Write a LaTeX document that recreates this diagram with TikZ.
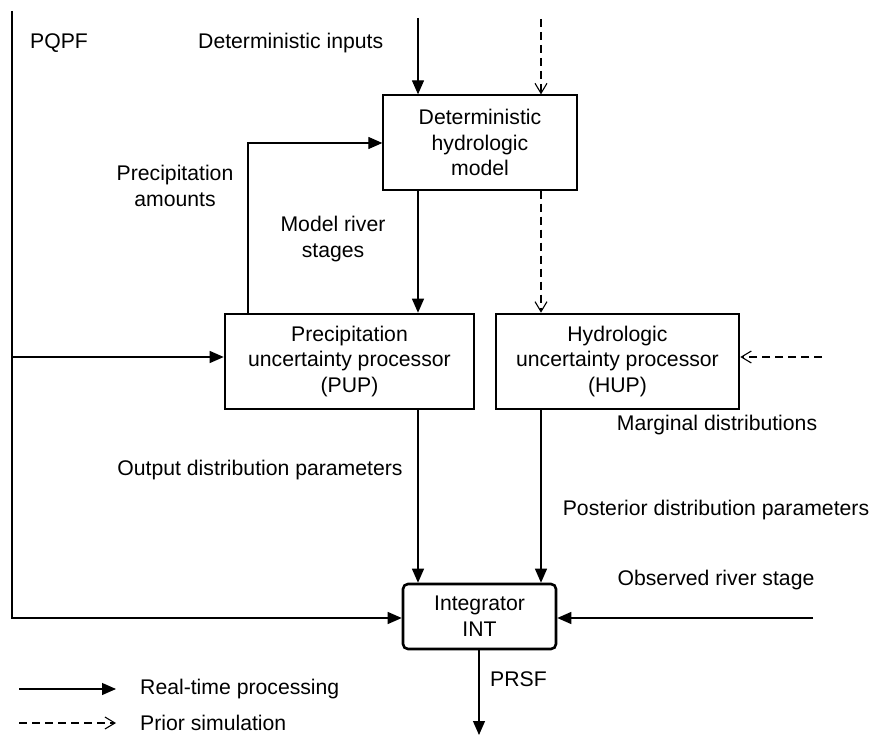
\documentclass[tikz,border=0pt]{standalone}
\usepackage{fontspec}
\setmainfont{Liberation Sans}
\usetikzlibrary{arrows.meta}
\begin{document}
\begin{tikzpicture}[x=1pt,y=-1pt,
  every node/.style={font=\fontsize{21.2}{25.8}\selectfont, align=center, inner sep=0pt},
  thinline/.style={line width=1.2pt},
  rt/.style={thinline, -{Triangle[length=14pt,width=12pt]}},
  prior/.style={line width=1.1pt, dash pattern=on 8pt off 5pt, -{Straight Barb[length=10pt,width=12pt]}},
  detbox/.style={draw, line width=1.3pt, minimum width=194pt, minimum height=95pt},
  thickbox/.style={draw, line width=2.6pt, minimum height=95pt}
]
\useasboundingbox (0,0) rectangle (871,741);

% boxes
\node[detbox] (det) at (480,142.5) {Deterministic\\hydrologic\\model};
\node[thickbox, minimum width=249pt] (pup) at (349.5,361.5) {Precipitation\\uncertainty processor\\(PUP)};
\node[thickbox, minimum width=243pt] (hup) at (617.5,361.5) {Hydrologic\\uncertainty processor\\(HUP)};
\node[thickbox, rounded corners=5pt, minimum width=153pt, minimum height=65pt] (int) at (479.5,616.5) {Integrator\\INT};

% labels
\node (pqpf) at (59,43) {PQPF};
\node[anchor=west] (detinlbl) at (198,43) {Deterministic inputs};
\node (precamt) at (175,186) {Precipitation\\amounts};
\node (mrs) at (333,239) {Model river\\stages};
\node (odp) at (260,470) {Output distribution parameters};
\node (md) at (717,425) {Marginal distributions};
\node (pdp) at (716,510) {Posterior distribution parameters};
\node (ors) at (716,580) {Observed river stage};
\node[anchor=west] (prsf) at (490,679) {PRSF};
\node[anchor=west] (lrt) at (140,689) {Real-time processing};
\node[anchor=west] (lps) at (140,723) {Prior simulation};

% free ends
\coordinate (pqtop) at (12,11);
\coordinate (pqbranch) at (12,357);
\coordinate (detin) at (418,18);
\coordinate (priorin) at (541,19);
\coordinate (precx) at (248,143);
\coordinate (obsin) at (813,618);
\coordinate (margin) at (822,357);
\coordinate (prsfend) at (479,735);
\coordinate (l1a) at (19,689);
\coordinate (l1b) at (116,689);
\coordinate (l2a) at (19,723);
\coordinate (l2b) at (116,723);

% connectors
\draw[rt] (detin) -- (detin |- det.north);
\draw[prior] (priorin) -- (priorin |- det.north);
\draw[rt] (det.south -| detin) -- (pup.north -| detin);
\draw[prior] (det.south -| priorin) -- (hup.north -| priorin);
\draw[rt] (pup.north -| precx) -- (precx) -- (det.west |- precx);
\draw[rt] (pqtop) -- (pqtop |- obsin) -- (int.west |- obsin);
\draw[rt] (pqbranch) -- (pup.west |- pqbranch);
\draw[rt] (pup.south -| detin) -- (int.north -| detin);
\draw[rt] (hup.south -| priorin) -- (int.north -| priorin);
\draw[rt] (obsin) -- (int.east |- obsin);
\draw[prior] (margin) -- (hup.east |- margin);
\draw[rt] (int.south -| prsfend) -- (prsfend);

% legend
\draw[rt] (l1a) -- (l1b);
\draw[prior] (l2a) -- (l2b);
\end{tikzpicture}
\end{document}
